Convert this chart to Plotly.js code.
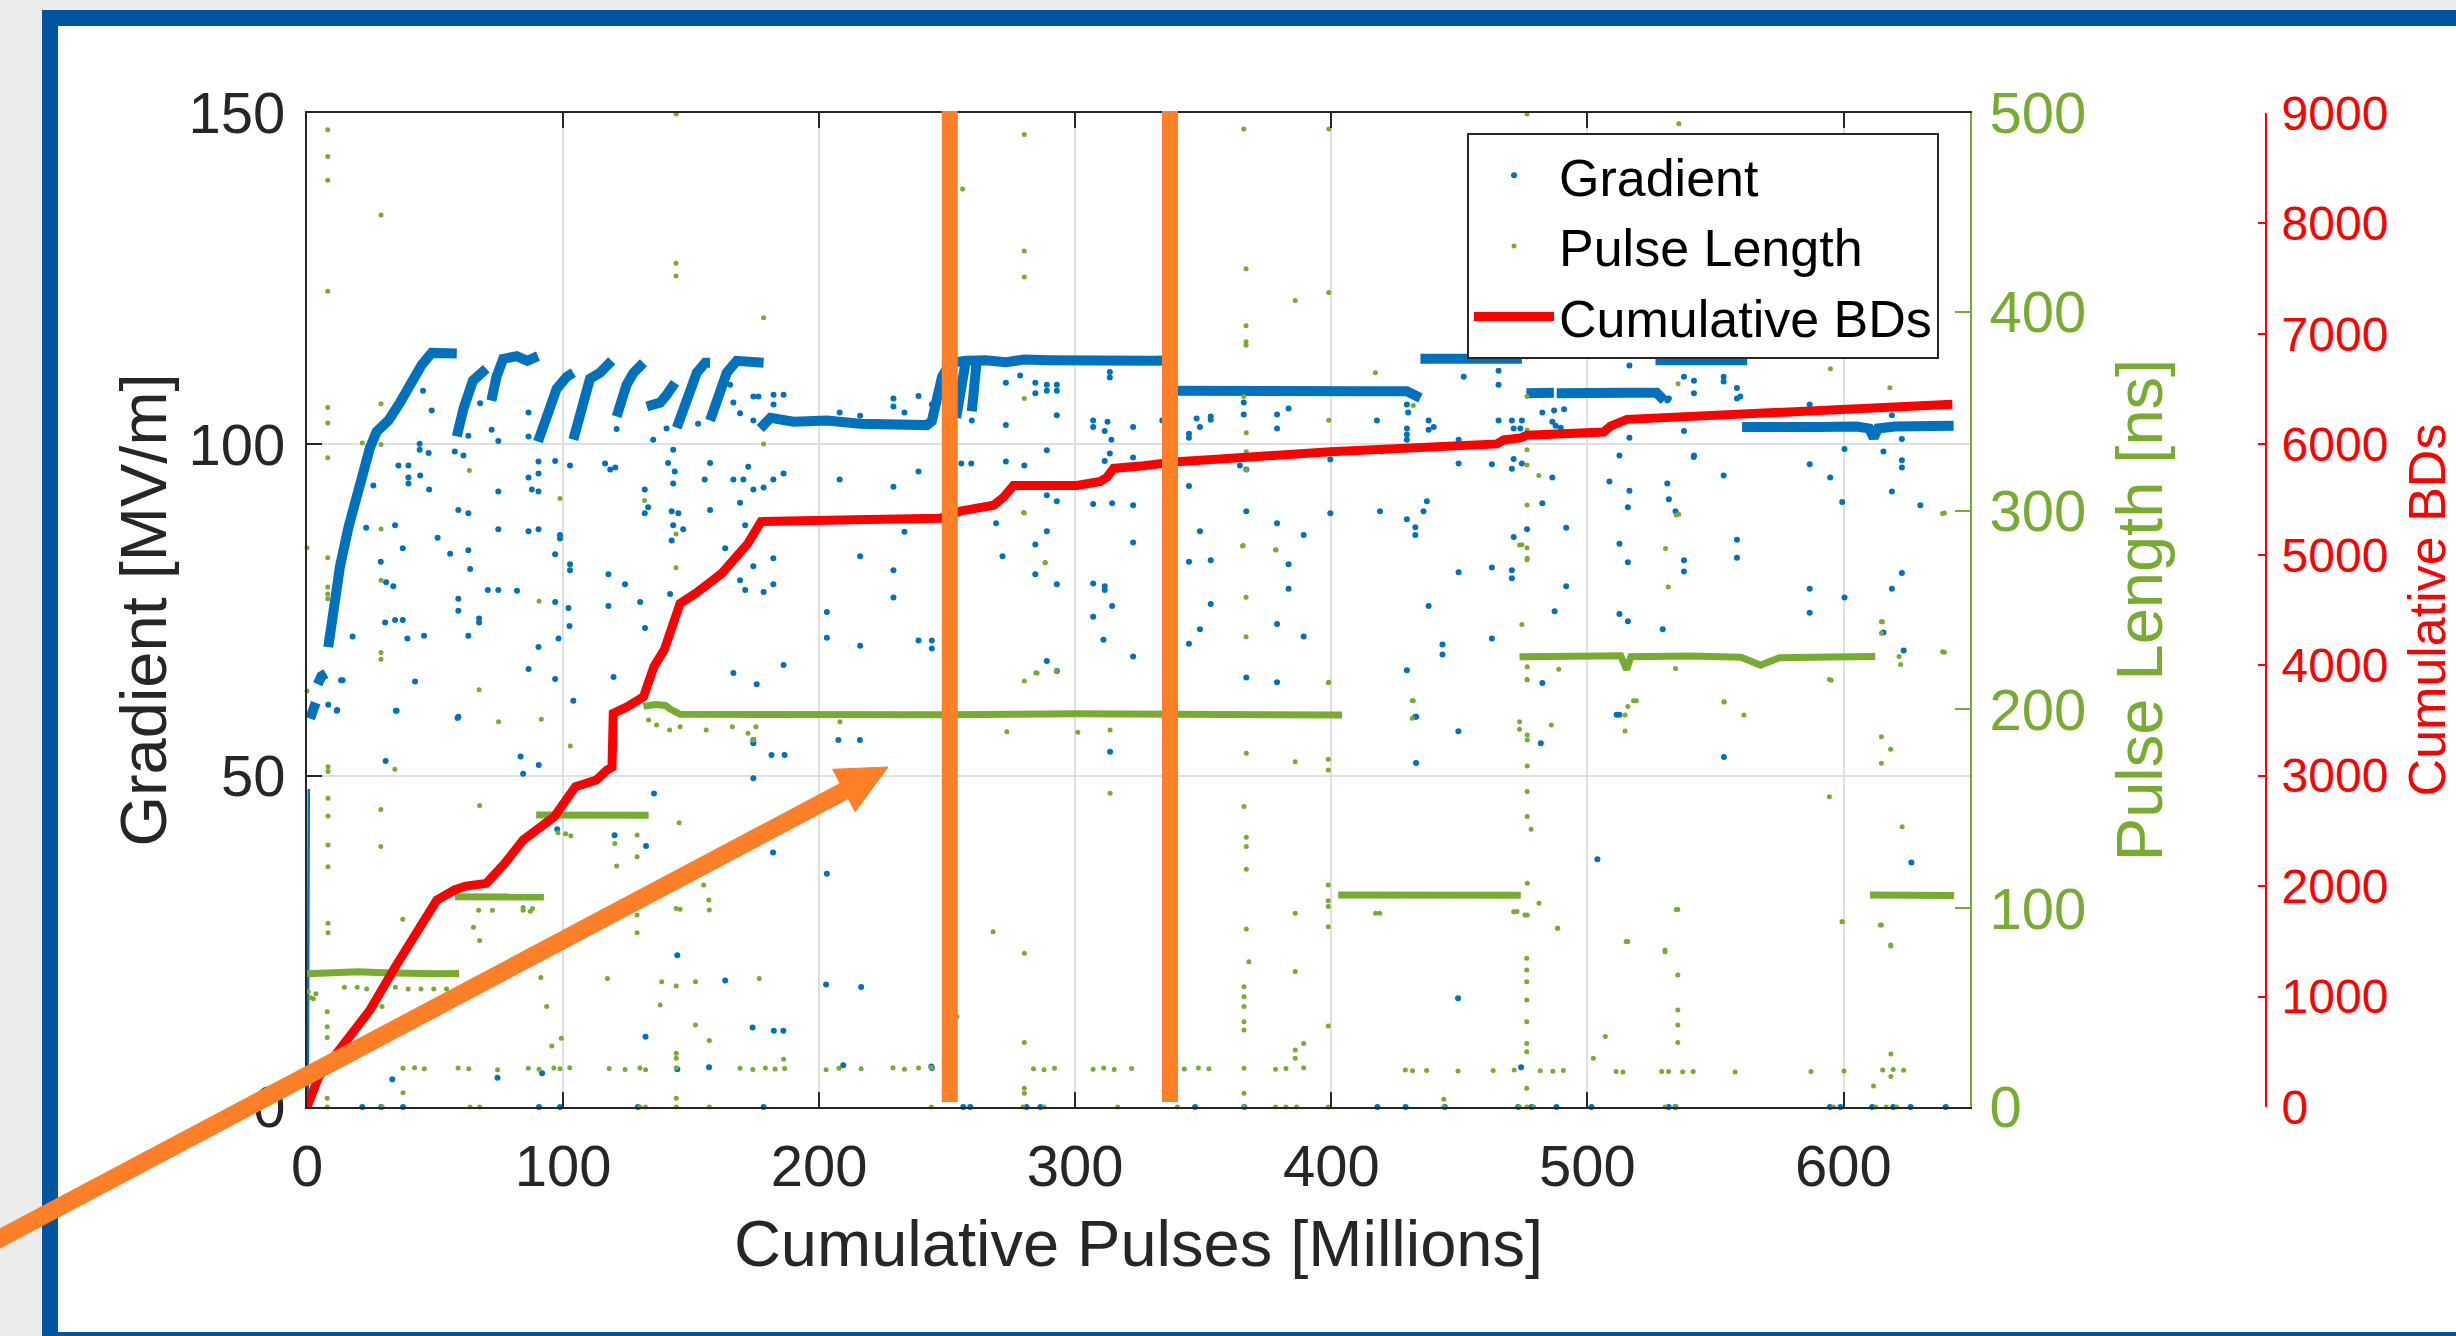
<!DOCTYPE html>
<html>
<head>
<meta charset="utf-8">
<script src="https://cdn.plot.ly/plotly-3.0.1.min.js"></script>
<style>
html,body{margin:0;padding:0;background:#ececec;}
#chart{width:2456px;height:1336px;}
</style>
</head>
<body>
<div id="chart"></div>
<script>
// ---------------- DATA ----------------
// x: Cumulative Pulses [Millions]

// Gradient [MV/m] : dense conditioning bands (segments separated by null)
const gradientBands = [
  [1.2,58.6],[2.2,60],[3.4,61],null,
  [4.2,63.8],[5.6,65],[7.4,65.4],null,
  [8.3,69.4],[10.3,75.6],[12.9,81.6],[16.2,87.5],[20.1,93.5],[24.6,99.5],[27.2,101.9],[31.8,103.6],[36.3,106.3],[40.9,109.3],[44.8,112],[48.7,113.8],[53,113.6],[58.5,113.7],null,
  [58.5,101.2],[61.1,105.4],[64.8,109.6],[67.5,110.8],[70,111.4],null,
  [72,106.6],[74,110.2],[76.6,112.9],[81.9,113.3],[86,112.6],[88.4,112.9],[90.2,113.3],null,
  [90.2,100.4],[93.5,104.2],[97.5,108.4],[101.4,110.2],[104,110.8],null,
  [104,100.7],[107.3,105.4],[110.5,109.9],[114.4,110.8],[119,112.6],null,
  [120.9,104.2],[124.8,109],[127.5,110.8],[131.4,112.3],null,
  [132.7,105.7],[137.9,106.3],[140.5,107.5],[143.7,109.3],null,
  [144.4,102.5],[148.3,106.6],[152.2,110.8],[155.5,112.3],[157.4,112.3],null,
  [157.4,103.6],[160.7,107.8],[163.9,110.8],[167.8,112.6],[173,112.4],[178.3,112.3],null,
  [177,102.4],[181,104],[190,103.4],[203,103.6],[216,103.1],[229,103],[242,102.9],[244,103.5],[246,106.5],[248,110.2],[250,111.5],[253.5,112.4],[257.6,112.6],[265,112.7],[273,112.4],[280,112.8],[290,112.7],[300,112.6],[310,112.8],[320,112.7],[330,112.6],[340,112.7],null,
  [253.5,104],[255.5,108.5],[257,112],null,
  [259.6,105],[260.5,109.5],[261.5,112.5],null,
  [340,108.1],[356.6,108],[375,108.2],[395.6,108.1],[415,108],[429.5,108],[431.5,107.5],[434.8,107],null,
  [434.8,112.9],[450,112.8],[465,113],[474.4,112.9],null,
  [476.2,107.7],[486.9,107.8],null,
  [488,107.7],[500,107.6],[515,107.8],[527,107.8],[530,106.6],null,
  [526.6,112.7],[540,112.8],[553,112.6],[562.4,112.7],null,
  [560.4,102.6],[575,102.5],[590,102.6],[605,102.7],[610,102.4],[611.8,101],[613.5,102.4],[620,102.7],[630,102.6],[643,102.8]
];
// thin start-up trace along the y axis
const gradientStart = [[0.3,0],[0.7,48]];

// Gradient : isolated points
const gradientPoints = [
  [48.7,105.1],[45.3,108.1],[44,100.1],[44,99.2],[47.5,98.7],[57.7,98.9],[61.1,98.3],[35.7,96.8],[39.6,96.8],[39.6,95],[39.6,94.1],[44.2,95.3],[47.7,93.2],[25.9,93.8],[63,101.3],[72.1,102.2],[74.7,100.5],[67.6,106.2],[86.5,104.8],[86.5,101.2],[90.4,97.4],[90.4,95.6],[90.4,92.9],[86.5,95],[87.8,93.2],[96.9,97.5],[102.7,96.8],[116.4,97.1],[118.4,96.2],[120.4,96.5],[120.9,102.3],[131.9,93.2],[131.9,89.6],[133.2,90.5],[135.2,100.7],[140.4,102.4],[141,97.2],[143.6,95.9],[143,94.1],[143,99.2],[142.4,89.9],[145,89.6],[143,87.8],[142.4,85.5],[146.9,87.2],[152.7,103.1],[155.3,94.7],[157.4,97.2],[157.4,90.1],[166.5,94.7],[170.4,94.7],[169.1,91.2],[172.3,96.6],[166.5,106.3],[169.1,104.7],[174.3,103.6],[165.2,109],[174.3,107.2],[176.3,107.2],[178.3,93.5],[174.3,93.2],[182.1,94.7],[171.1,87.8],[169.1,79.5],[171.1,78],[174.3,81.6],[178.3,77.7],[182.1,82.8],[182.1,78.9],[163.3,84.3],[166.5,65.5],[175.6,63.8],[141.8,77.4],[130.1,76.2],[132,72.3],[124.2,78.9],[117.7,80.4],[117.7,75.6],[119.7,64.9],[104,61.3],[96.9,83.4],[96.9,76.2],[96.9,64.6],[98.8,86.3],[98.8,85.8],[102.7,81.9],[102.7,81],[102.1,75.3],[102.5,72.6],[98.2,70.7],[90.4,69.4],[86.5,66.1],[86.5,86.9],[90.4,87.2],[82,77.9],[74.7,87.2],[74.7,92.9],[74.7,78],[70.6,78],[63,89.6],[59.1,90.1],[63,84],[55.9,83.5],[63.7,81.2],[59.1,76.7],[59.1,74.9],[63,71.1],[67.2,73.7],[67.2,73.1],[51,85.9],[45.7,71.1],[39.2,70.7],[34.4,73.5],[37.4,73.5],[30.5,73.1],[37.4,84.3],[34.4,87.8],[28.8,82.3],[30.9,79.2],[33.7,78.6],[23.1,87.4],[17.8,71],[13.3,64.4],[11.6,59.8],[8.3,60.7],[42.2,64.2],[35,59.8],[59.1,58.9],
  [182.2,107.5],[182.2,106],[186.1,107.5],[186.1,95.6],[186.1,66.7],[203,74.7],[203,70.8],[208,104.8],[208,94.7],[216,104.3],[216,83.1],[216,69.6],[229,106.9],[229,105.7],[229,93.6],[229,81],[229,76.9],[233.3,104.8],[233.3,86.8],[238.8,107.3],[238.8,95.9],[238.8,70.4],[244,106],[244,70.4],[244,69.2],[255.5,97.1],[259.4,97.1],[260.3,109],[259.6,106.6],[259.6,103.6],[272.9,109.3],[272.9,102.9],[272.9,97.4],[278.5,110.4],[284.4,109.3],[284.4,107.7],[288.9,109],[288.9,108.1],[292.8,109],[292.8,108.1],[292.8,104.4],[288.9,99.1],[280.1,96.8],[288.9,92.3],[292.8,91.4],[288.9,86.9],[284.4,84.9],[284.4,80.4],[292.8,78.9],[269.1,88.1],[271.6,83.1],[288.9,67.3],[292.8,65.8],[307,103.6],[307,102.6],[311.5,102],[312.6,103.4],[314.1,100.7],[313.5,98.6],[311.5,97.5],[313.5,110.9],[313.5,110.1],[307,91],[314.4,91.1],[322.6,90.8],[322.6,85.2],[311.5,78.6],[311.5,78],[314.4,75.6],[307,79],[307,74],[311,70.5],[322.6,68],[322.6,102.6],[322.6,98],[334,103.6],[344.4,101.6],[344.4,101],[344.4,93.7],[344.4,82.3],[344.4,69.9],[347.4,103.9],[348.7,102.6],[352.9,104.2],[352.9,103.7],[348.7,86.9],[352.9,82.5],[352.9,75.9],[348.7,72.1],[364.3,96.8],
  [365.8,106.3],[365.8,104.5],[366.8,96.2],[378.8,104.5],[378.8,102.4],[383.3,105.4],[399.6,97.7],[417.8,103.6],[419.8,98.9],[429.5,106],[430,104.8],[429.5,102.4],[429.5,101.5],[429.5,100.7],[438,103.6],[438,102.2],[440,102.6],[451.7,110.2],[465.3,111.1],[465.3,109],[465.3,103.6],[470.5,103.6],[471.2,102.4],[474.4,103.6],[473.8,102.4],[449.7,100.7],[449.7,97.1],[462.7,97],[470.5,96.3],[471.2,97.8],[474.4,97.1],[482.4,104.8],[487,105.1],[490.9,105.3],[486.3,103.4],[487.6,102.8],[489.6,102.5],[486.3,95],[482.4,91.1],[491.7,87.4],[508.6,94.4],[512.5,98.3],[516.4,93],[515.8,90.5],[512.5,85],[515.8,82.2],[516.4,111.9],[516.4,101],[537.7,110.2],[541.6,109.6],[541.6,107.7],[537.7,102],[531.2,106.6],[531.2,94.1],[531.8,91.7],[537.7,82.5],[537.7,80.8],[541.6,98.3],[491.7,78.6],[487.2,74.8],[512.5,74.4],[515.8,73.3],[529.4,72.1],[471.2,86],[470.5,81],[470.5,79.8],[476.4,87.2],[462.7,81.4],[462.7,70.7],[449.7,80.7],[437.3,91.4],[436,89.9],[438,75.6],[432.8,87.5],[432.8,86.3],[429.5,88.7],[443.4,69.8],[443.4,68.3],[429.5,65.9],[419,89.9],[399.6,89.6],[389.2,86.3],[383.3,81.9],[383.3,78.2],[378.8,88.1],[378.8,72.9],[389.2,71],[378.8,64.1],[366.8,89.9],[366.8,64.8],[482.4,64],[432.8,58.9],[512.5,59.2],
  [531.8,106.9],[553.2,110.2],[553.2,109.5],[558.4,108.5],[558.4,106.9],[559.7,107.2],[541.5,98.1],[553.2,95.3],[534.4,89.9],[558.4,85.6],[558.4,82.9],[586.8,106],[586.8,97],[594.8,95],[599.5,91.3],[600.4,99.3],[586.8,78.2],[586.8,74.6],[600.4,76.9],[611.7,113.6],[615.6,98.9],[618.9,104.4],[618.9,92.9],[622.8,100.8],[622.8,97.6],[622.8,96.5],[622.8,80.6],[618.9,78.2],[615.6,71.6],[623.5,68.9],[630,90.8],
  [58.8,58.7],[174.3,55.4],[174.3,54.9],[181.4,53.1],[186.5,53.1],[174.3,49.6],[135.5,47.3],[83.4,52.9],[84.4,50.3],[90.5,51.6],[30.7,52.2],[120.1,41],[132.4,39.4],[182,38.4],[97.7,41.9],[34.7,59.8],[11.8,59.9],[13.9,64.4],[207.5,55.4],[215.9,55.4],[313.6,53.6],[433.1,58.9],[433.1,51.9],[449.6,56.7],[481.8,54.9],[511.4,59.2],[553.3,52.8],[503.9,37.4],[626.5,36.9],[203,35.2],
  [33.3,4.2],[144.6,22.9],[163.3,19.1],[132.2,10.6],[174,12],[182.3,11.5],[186,11.5],[202.7,18.5],[216.4,18.1],[144.6,5.7],[157,6],[74.4,4.4],[91.8,5.1],[209.4,6.3],[243.8,6.1],[449.5,16.4],[244,5.9],[474.1,6],
  [21.6,0],[29,0],[37.5,0],[90.6,0],[98.8,0],[129.2,0],[178.3,0],[256.3,0],[259,0],[281,0],[286.4,0],[346.8,0],[366,0],[418,0],[429,0],[444.3,0],[473,0],[478.2,0],[487.9,0],[501.6,0],[531.7,0],[534.4,0],[594.7,0],[598.8,0],[611.2,0],[619.4,0],[626.2,0],[639.9,0]
];

// Pulse Length [ns] : flat-top bands
const pulseBands = [
  [0,67],[10,67.5],[20,68],[30,67.5],[40,67],[50,67],[59.4,67.2],null,
  [57.8,105.8],[70,105.5],[80,105.9],[92.5,105.6],null,
  [89.5,146.9],[100,147],[110,146.5],[120,147],[133.4,146.8],null,
  [131.4,201.5],[136,202.5],[140,202],[142,200],[145.7,197.5],[170,197.3],[200,197.6],[250,197.3],[300,197.8],[350,197.5],[404.2,197.2],null,
  [402.7,106.6],[430,106.4],[450,106.8],[474,106.5],null,
  [473.5,226.5],[490,226.8],[505,226.3],[513,227],[515.3,220],[517,226.5],[540,226.8],[560,226.2],[567.6,222.2],[575,226],[595,226.4],[612.4,226.6],null,
  [610.4,106.6],[625,106.8],[643.2,106.4]
];

// Pulse Length : isolated points
const pulsePoints = [
  [8.1,491.6],[8.1,478.1],[8.1,466.2],[28.9,448.7],[8.1,410.3],[144.1,424.4],[144.1,418],[178.3,397],[8.1,351.9],[8.1,344.1],[28.9,353.8],[21.6,334],[28.9,333.2],[8.1,326.6],[63.4,320.2],[178.3,333.5],[98.8,306.1],[131.8,305.1],[144.1,288.2],[144.1,271.3],[28.9,290.8],[0,281.3],[8.1,276.3],[8.1,261.6],[8.1,258],[8.1,255.6],[28.9,265],[90.6,254.4],[28.9,228.6],[28.9,225.2],[67.2,209.9],[0,209.3],[144.2,499.5],
  [280.1,489.2],[256,461.8],[280.1,430.6],[280.1,417.5],[280.1,356.4],[280.1,298.8],[288.3,273.9],[285.1,218.3],[280.1,214.3],
  [365.8,492],[399,492],[476.4,499.5],[366.7,421.6],[385.9,405.7],[399,409.7],[366.7,393],[366.7,384.9],[366.7,383.2],[417.2,369.4],[476.4,377.3],[365.8,357.4],[366.8,339.1],[366.8,329.6],[366.8,320.6],[399,345.5],[432,352.9],[476.4,357.4],[476.4,340.5],[476.4,330.6],[476.4,323],[481,317.7],[476.4,302.8],[474.4,282.8],[476.4,281.3],[476.4,275.3],[474.4,242.7],[365.6,282.4],[378.2,280.3],[366.7,256.4],[366.7,236.5],[399,213.7],[530.5,280.9],[531.6,261.6],[535.7,298.2],[488.8,220.2],[476.4,215],[515.8,201.4],[519.1,204.3],[432,204.3],[534.4,220.6],[535.7,494.6],
  [594.9,371.3],[618.1,361.8],[535.4,363.8],[639.4,298.8],[615.2,244.1],[621.7,226.6],[622.3,222.6],[639.4,228.8],[595.2,214.7],[553.3,203.7],[561.1,197.2],
  [74.8,193.8],[91.5,195],[102.8,181.6],[8.2,171.2],[8.2,168.7],[34.3,169.9],[8.2,155.3],[8.2,146.4],[8.2,131.8],[8.2,120.9],[28.8,149.7],[28.8,131],[67.4,151.6],[145.3,143],[120.2,132.6],[128.9,136.8],[128.9,125.9],[120.9,121.2],[156.9,125.9],[154.9,111.7],[156.9,104.1],[98,138],[101,137.5],[103,136.5],[145.7,99.5],[128.9,96.6],[67,99],[72.4,99],[84.4,99],[87.2,98.5],[37.4,94.4],[65,90.4],[8.2,92.4],[8.2,87.7],[67.4,83.7],[128.9,87.7],[101.8,83.1],
  [279.8,299],[534.7,297.8],[638.7,298.6],[365.3,282.2],[378.4,280.2],[288.2,273.8],[473.5,282.7],[476.5,276],[614.8,244.1],[614.8,238.3],[638.7,229],[284.6,218.4],[292.6,219.3],[398.8,213.4],[594.5,215.1],[476.5,221.5],[476.5,214.8],[514.7,197.2],[514.7,189.1],[518,204.4],[553.4,203.9],[431.6,204.4],[431.6,195.5],[473.5,190],[476.5,187.1],[476.5,184.6],[485.9,192.2],[473.5,193.8],[273.3,188.8],[301,188.5],[313.6,189.6],[208.1,193.8],[366.8,177.9],[385.9,173.7],[398.8,174.9],[398.8,169.5],[476.5,171.5],[614.8,186.3],[618.4,179.9],[614.8,172.9],[313.6,157.8],[365.9,151.1],[366.8,135.7],[366.8,131],[366.8,119.6],[476.5,158.7],[476.5,146.1],[478,139.7],[594.5,156.1],[622.9,141],[398.8,111.7],[398.8,103.8],[398.8,100.8],[476.5,112.5],[481.1,102.5],[472.5,98.3],[476.5,96.6],[534.7,99.4],[385.9,97.4],[417.3,97.4],[599.6,93.2],[614.8,91.6],[618.4,81.5],[267.9,88.2],[366.8,89.5],[398.8,90.7],[488.4,89.9],[515.1,83.2],[530.3,79],
  [84.4,100.4],[88.1,99.9],[144.2,99.9],[157.1,99.1],[91.3,65.2],[93.6,50.5],[117.3,64.7],[138.5,63],[144.2,60.9],[151.7,63],[176.6,64.7],[137.9,51.3],[151.7,41.2],[157.1,33.4],[95.6,30.7],[99.3,34.6],[144.2,27],[144.2,24.5],[186.1,24],[7.9,40.4],[7.9,34.9],[7.9,47.9],[29.3,50.5],[37.5,7.2],[7.9,4.4],[144.2,4.4],[253.8,45.5],
  [14.6,60.2],[19.6,60.2],[23.3,59.4],[29.6,59.4],[34.5,60.2],[39.5,59.4],[44.5,59.4],[49.5,59.4],[54.5,59.4],[0.5,58],[1.5,55],[2.5,54.5],[3.5,57],
  [133.4,194.7],[136.5,192.2],[141.6,189.6],[145.7,191.3],[155.9,189.6],[166.1,191.3],[172.2,188],[175.3,191.3],[174.3,184.6],
  [280.1,77.3],[280.1,32.4],[280.1,9.4],[280.1,6.9],[367.8,73.1],[365.9,60.5],[365.9,55.5],[365.9,50.5],[365.9,42.9],[365.9,38.7],[365.9,6.9],[385.9,68.1],[389.2,32],[385.9,28.7],[385.9,24.5],[398.8,40.7],[418.9,97.4],[443.9,3.9],[471.2,98.2],[475.6,96.6],[476.3,74.8],[476.3,68.9],[476.3,63],[476.3,53.8],[476.3,42.9],[476.3,32],[476.3,27.8],[476.3,9.4],[488.3,89.9],[502.3,24.5],[507,35.4],[515.8,83.2],[530.3,78.1],[535.3,99.4],[535.3,66.4],[535.3,48.8],[535.3,41.2],[535.3,32.4],[599.4,93.2],[614.4,91.5],[618.5,81],[618.5,26.7],[618.5,15.3],[611.7,10.6],
  [37.5,19.5],[42,19.8],[45.8,19.2],[59,19.6],[63.2,19.3],[74.4,18.8],[86.4,19.5],[90.6,19],[96.4,19.6],[98.8,19.2],[102.6,19.7],[118,19.4],[124.2,18.9],[130,19.6],[132.2,18.7],[144.2,19.8],[169.1,19.5],[174.1,18.9],[179,19.6],[182.8,19.1],[186.5,19.4],[202.7,18.8],[207.7,19.5],[216.4,19.2],[228.8,19.7],[233.3,19],[238.8,19.6],[243.8,19.9],
  [283.7,19.2],[287.8,18.8],[291.9,19.5],[307,19],[311.1,19.6],[315.2,18.9],[322,19.4],[335.8,19.5],[342.6,19.1],[348.1,19.6],[352.2,19.3],[365.9,19.5],[378.2,19],[382.3,19.4],[389.2,19.8],[428.9,18.6],[431.7,18.2],[437.2,18.4],[449.5,18.1],[463.2,18.3],[471.4,18.6],[481.6,18.2],[486.5,18],[490.6,18.3],[511.2,17.8],[513.9,17.6],[529,17.8],[531.7,17.9],[537.2,17.7],[541.3,17.8],[557.7,17.6],[587.3,17.9],[600.2,18.1],[615.3,18.6],[619.4,18.9],[623.5,18.5],
  [7.9,0],[29.3,0],[63.7,0],[67.4,0],[130,0],[132.2,0],[144.2,0],[157.1,0],[243.8,0],[279.6,0],[287.8,0],[316.6,0],[339.9,0],[365.9,0],[378.2,0],[382.3,0],[386.4,0],[398.8,0],[443.9,0],[473.5,0],[476.3,0],[479,0],[530.3,0],[534.4,0],[596.1,0],[612.6,0],[616.7,0],[620.8,0]
];

// Cumulative BDs
const bdCurve = [
  [0,0],[4.6,274],[14.6,577],[24.6,878],[34.5,1270],[38.4,1421],[44,1640],[50.7,1874],[57.6,1965],[62,2000],[70,2025],[77,2200],[84.4,2417],[96.6,2629],[104.8,2900],[113,2961],[117.1,3051],[119.1,3077],[119.6,3564],[125.2,3625],[131.4,3715],[135.5,3988],[139.5,4139],[143.6,4439],[145.7,4560],[151.8,4651],[162,4832],[172.2,5103],[177.3,5300],[213.4,5317],[247.3,5331],[255.1,5395],[268.1,5449],[272,5520],[274.6,5592],[275.9,5628],[300.6,5628],[309.8,5664],[312.3,5700],[315,5782],[326.7,5807],[339.7,5843],[356.6,5868],[372.3,5897],[399.6,5933],[464.7,6004],[467.3,6040],[473.8,6058],[476.4,6083],[506.4,6112],[509,6165],[515.5,6226],[525.9,6237],[544.1,6273],[559.8,6291],[611.9,6344],[642.5,6362]
];

// axis ticks
const xTicks = [0,100,200,300,400,500,600];
const gradTicks = [0,50,100,150];
const pulseTicks = [0,100,200,300,400,500];
const bdTicks = [0,1000,2000,3000,4000,5000,6000,7000,8000,9000];
const markedPulses = [251, 337];   // the two highlighted moments (orange bars)

// ---------------- helpers ----------------
const xs = a => a.map(p => p === null ? null : p[0]);
const ys = a => a.map(p => p === null ? null : p[1]);

const BLUE = '#0072bd', GREEN = '#77ac30', RED = '#ff0000', DARK = '#262626', ORANGE = '#fd7f28';
const W = 2456, H = 1336;
const fx = p => p / W, fy = p => 1 - p / H;
const plotL = 307, plotR = 1970, plotT = 113, plotB = 1107;
const FONT = 'Liberation Sans, Arial, Helvetica, sans-serif';

const traces = [
  {type:'scatter', mode:'lines', x:xs(gradientStart), y:ys(gradientStart), xaxis:'x', yaxis:'y',
   line:{color:BLUE, width:2.5}, showlegend:false, hoverinfo:'skip', legendgroup:'g'},
  {type:'scatter', mode:'lines', x:xs(gradientBands), y:ys(gradientBands), xaxis:'x', yaxis:'y',
   line:{color:BLUE, width:10}, connectgaps:false, showlegend:false, hoverinfo:'skip', legendgroup:'g'},
  {type:'scatter', mode:'markers', name:'Gradient', x:xs(gradientPoints), y:ys(gradientPoints), xaxis:'x', yaxis:'y',
   marker:{color:BLUE, size:6}, cliponaxis:false, legendrank:1, legendgroup:'g', hoverinfo:'skip'},
  {type:'scatter', mode:'lines', x:xs(pulseBands), y:ys(pulseBands), xaxis:'x', yaxis:'y2',
   line:{color:GREEN, width:7}, connectgaps:false, showlegend:false, hoverinfo:'skip', legendgroup:'p'},
  {type:'scatter', mode:'markers', name:'Pulse Length', x:xs(pulsePoints), y:ys(pulsePoints), xaxis:'x', yaxis:'y2',
   marker:{color:GREEN, size:5}, cliponaxis:false, legendrank:2, legendgroup:'p', hoverinfo:'skip'},
  {type:'scatter', mode:'lines', name:'Cumulative BDs', x:xs(bdCurve), y:ys(bdCurve), xaxis:'x', yaxis:'y3',
   line:{color:RED, width:9}, legendrank:3, hoverinfo:'skip'}
];

const shapes = [
  // blue slide frame
  {type:'rect', xref:'paper', yref:'paper', x0:fx(50), x1:fx(2480), y0:fy(18), y1:fy(1340),
   line:{color:'#01549f', width:16}, fillcolor:'white', layer:'below'},
  // highlighted pulses (orange bars)
  {type:'line', xref:'x', yref:'paper', x0:markedPulses[0], x1:markedPulses[0], y0:fy(1102), y1:fy(111),
   line:{color:ORANGE, width:16}, layer:'above'},
  {type:'line', xref:'x', yref:'paper', x0:markedPulses[1], x1:markedPulses[1], y0:fy(1102), y1:fy(111),
   line:{color:ORANGE, width:16}, layer:'above'},
  // arrow shaft
  {type:'line', xref:'paper', yref:'paper', x0:fx(-20), y0:fy(1249), x1:fx(848), y1:fy(789),
   line:{color:ORANGE, width:18}, layer:'above'},
  // arrow head
  {type:'path', xref:'paper', yref:'paper',
   path:`M${fx(888)},${fy(767)} L${fx(832.6)},${fy(769.3)} L${fx(855.2)},${fy(811.7)} Z`,
   fillcolor:ORANGE, line:{color:ORANGE, width:1}, layer:'above'}
];

const layout = {
  width:W, height:H, autosize:false,
  margin:{l:0, r:0, t:0, b:0, pad:0},
  paper_bgcolor:'#ececec', plot_bgcolor:'white',
  font:{family:FONT, color:DARK},
  showlegend:true,
  legend:{x:fx(1467), y:fy(133), xanchor:'left', yanchor:'top', bgcolor:'white',
          bordercolor:DARK, borderwidth:2, font:{family:FONT, size:52, color:'#000'},
          itemwidth:80, traceorder:'normal', tracegroupgap:0},
  xaxis:{domain:[fx(plotL), fx(plotR)], range:[0,649.4], tickvals:xTicks, ticktext:xTicks.map(String),
         ticks:'inside', ticklen:15, tickwidth:2, tickcolor:DARK, showline:true, linecolor:DARK, linewidth:2,
         mirror:'ticks', showgrid:true, gridcolor:'#dfdfdf', gridwidth:2, zeroline:false,
         tickfont:{family:FONT, size:58, color:DARK}, ticklabelstandoff:7,
         title:{text:'Cumulative Pulses [Millions]', font:{family:FONT, size:65, color:DARK}, standoff:24}},
  yaxis:{domain:[fy(plotB), fy(plotT)], range:[0,150], tickvals:gradTicks, ticktext:gradTicks.map(String),
         ticks:'inside', ticklen:15, tickwidth:2, tickcolor:DARK, showline:true, linecolor:DARK, linewidth:2,
         showgrid:true, gridcolor:'#dfdfdf', gridwidth:2, zeroline:false,
         tickfont:{family:FONT, size:58, color:DARK}, ticklabelstandoff:8,
         title:{text:'Gradient [MV/m]', font:{family:FONT, size:65, color:DARK}, standoff:1}},
  yaxis2:{overlaying:'y', side:'right', anchor:'x', range:[0,500], tickvals:pulseTicks, ticktext:pulseTicks.map(String),
         ticks:'inside', ticklen:15, tickwidth:2, tickcolor:GREEN, showline:true, linecolor:GREEN, linewidth:2,
         showgrid:false, zeroline:false,
         tickfont:{family:FONT, size:58, color:GREEN}, ticklabelstandoff:6,
         title:{text:'Pulse Length [ns]', font:{family:FONT, size:65, color:GREEN}, standoff:31}},
  yaxis3:{overlaying:'y', side:'right', anchor:'free', position:fx(2266), range:[0,9000], tickvals:bdTicks, ticktext:bdTicks.map(String),
         ticks:'inside', ticklen:7, tickwidth:2, tickcolor:RED, showline:true, linecolor:RED, linewidth:2,
         showgrid:false, zeroline:false,
         tickfont:{family:FONT, size:48, color:RED}, ticklabelstandoff:5,
         title:{text:'Cumulative BDs', font:{family:FONT, size:52, color:RED}, standoff:28}},
  shapes:shapes
};

Plotly.newPlot('chart', traces, layout, {staticPlot:true, displayModeBar:false});
</script>
</body>
</html>
